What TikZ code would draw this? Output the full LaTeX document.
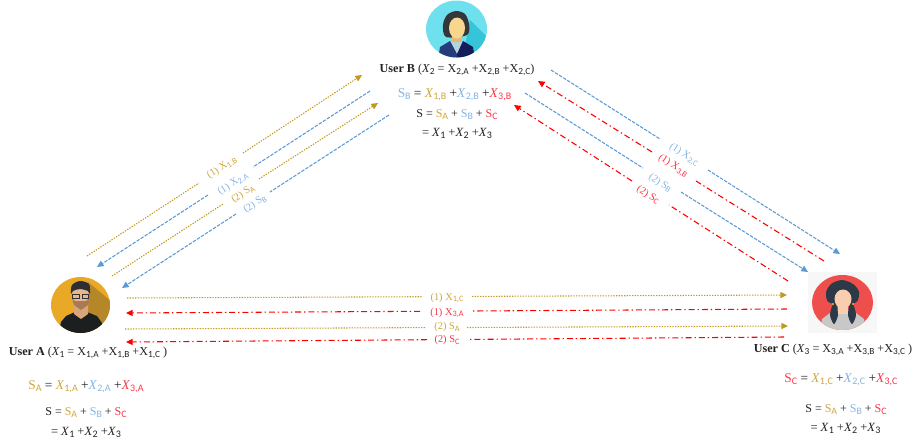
\documentclass[tikz,border=0pt]{standalone}
\usepackage{fontspec}
\setmainfont{Liberation Serif}
\newfontfamily\subfont{Carlito}
\usetikzlibrary{arrows.meta}
\definecolor{goldline}{HTML}{BF9A1E}
\definecolor{goldtext}{HTML}{CFA63C}
\definecolor{blueline}{HTML}{5B9BD5}
\definecolor{bluetext}{HTML}{84B4E4}
\definecolor{redline}{HTML}{FF0000}
\definecolor{redtext}{HTML}{FF3344}
\definecolor{inktext}{HTML}{222222}
\def\subsize{7.5}
\newcommand{\sbs}[2]{#1\lower.35ex\hbox{\subfont\fontsize{\subsize}{\subsize}\selectfont #2}}
\newcommand{\ix}[1]{\sbs{\textit{X}}{#1}}
\newcommand{\gold}[1]{{\color{goldtext}#1}}
\newcommand{\blue}[1]{{\color{bluetext}#1}}
\newcommand{\red}[1]{{\color{redtext}#1}}
\newcommand{\sumline}{S = \gold{\sbs{S}{A}} + \blue{\sbs{S}{B}} + \red{\sbs{S}{C}}}
\newcommand{\totline}{= \ix{1} +\ix{2} +\ix{3}}
\tikzset{
	goldarrow/.style={goldline,line width=.8pt,dash pattern=on 1pt off 1pt},
	bluearrow/.style={blueline,line width=.8pt,dash pattern=on 2.6pt off 1pt},
	redarrow/.style={redline,line width=.8pt,dash pattern=on 4.5pt off 2.2pt on 1pt off 2.2pt},
	tiphead/.style={-{Triangle[length=5pt,width=4.6pt]}},
	eqn/.style={inner sep=0pt,text=inktext,font=\fontsize{10}{12}\selectfont},
	sumeqn/.style={eqn,font=\fontsize{9}{11}\selectfont\def\subsize{7.4}},
	toteqn/.style={eqn,font=\fontsize{9.4}{11}\selectfont},
	head/.style={inner sep=0pt,text=inktext,font=\fontsize{9.1}{11}\selectfont\def\subsize{7}},
	msg/.style={inner sep=0pt,font=\fontsize{7.8}{10}\selectfont\def\subsize{6.2}}
}
\begin{document}
\begin{tikzpicture}[x=.75pt,y=-.75pt]
	\useasboundingbox (0,0) rectangle (913,443);

	\begin{scope}
		\clip (456.5,29) ellipse (30.5 and 28.5);
		\fill[fill={rgb,255:red,110;green,224;blue,238}] (420,-5) rectangle (495,62);
		\fill[fill={rgb,255:red,53;green,197;blue,216}] (470,20) -- (492,42) -- (492,62) -- (462,62) -- cycle;
		\fill[fill={rgb,255:red,51;green,54;blue,59}] plot[smooth cycle] coordinates {(456,11) (465,14) (469,24) (467,35) (446,37) (443,25) (447,15)};
		\fill[fill={rgb,255:red,232;green,184;blue,114}] (452,33) rectangle (462,45);
		\fill[fill={rgb,255:red,181;green,212;blue,220}] (449,42) -- (464,42) -- (457,54) -- cycle;
		\fill[fill={rgb,255:red,38;green,59;blue,124}] (438,60) -- (440,47) -- (450,41) -- (457,54) -- (457,60) -- cycle;
		\fill[fill={rgb,255:red,20;green,28;blue,92}] (475,60) -- (473,47) -- (463,41) -- (457,54) -- (457,60) -- cycle;
		\fill[fill={rgb,255:red,249;green,214;blue,142}] (457,28) ellipse (8 and 10.5);
	\end{scope}

	\begin{scope}
		\clip (80.5,305) ellipse (29.5 and 28);
		\fill[fill={rgb,255:red,233;green,168;blue,37}] (48,274) rectangle (113,336);
		\fill[fill={rgb,255:red,181;green,135;blue,40}] (88,282) -- (112,302) -- (112,336) -- (88,336) -- cycle;
		\fill[fill={rgb,255:red,28;green,31;blue,32}] (58,336) -- (61,322) -- (66,316) -- (75,312) -- (87,312) -- (97,316) -- (102,323) -- (104,336) -- cycle;
		\fill[fill={rgb,255:red,217;green,166;blue,121}] (74,304) -- (74,314) -- (81,319) -- (88,314) -- (88,304) -- cycle;
		\fill[fill={rgb,255:red,229;green,183;blue,143}] (80.5,296) ellipse (8.5 and 11);
		\fill[fill={rgb,255:red,168;green,122;blue,85}] (72,298) -- (75,301) -- (86,301) -- (89,298) -- (88,305) -- (81,310) -- (74,305) -- cycle;
		\fill[fill={rgb,255:red,44;green,47;blue,51}] plot[smooth cycle] coordinates {(71,294) (72,285) (80,281) (89,284) (90,294) (88,291) (80,289) (73,291)};
		\draw[draw={rgb,255:red,50;green,50;blue,50},line width=.5pt] (72.5,294) rectangle (79,298) (82,294) rectangle (88.5,298);
	\end{scope}

	\fill[fill={rgb,255:red,247;green,247;blue,247}] (808,272) rectangle (877,333);
	\begin{scope}
		\clip (842.5,302.5) ellipse (30.5 and 27.5);
		\fill[fill={rgb,255:red,239;green,79;blue,76}] (810,272) rectangle (875,332);
		\fill[fill={rgb,255:red,200;green,200;blue,200}] (820,332) -- (822,319) -- (834,310) -- (852,310) -- (864,319) -- (866,332) -- cycle;
		\fill[fill={rgb,255:red,249;green,205;blue,176}] (838,305) rectangle (848,314);
		\fill[fill={rgb,255:red,44;green,58;blue,71}] plot[smooth cycle] coordinates {(826,293) (831,284) (842,280) (853,284) (859,292) (855,303) (830,303)};
		\fill[fill={rgb,255:red,44;green,58;blue,71}] plot[smooth cycle] coordinates {(833,304) (830,315) (834,324) (838,315) (836,304)};
		\fill[fill={rgb,255:red,44;green,58;blue,71}] plot[smooth cycle] coordinates {(850,304) (848,315) (852,324) (856,315) (853,304)};
		\fill[fill={rgb,255:red,249;green,205;blue,176}] (843,299) ellipse (8.5 and 9.5);
		\fill[fill={rgb,255:red,240;green,176;blue,48}] (833,304) circle (1.2) (853,304) circle (1.2);
	\end{scope}

	\node[head] (nameB) at (457,70) {\textbf{User B} (\ix{2} = \sbs{X}{2,A} +\sbs{X}{2,B} +\sbs{X}{2,C})};
	\node[eqn] (shareB) at (454.5,95) {\blue{\sbs{S}{B}} = \gold{\ix{1,B}} +\blue{\ix{2,B}} +\red{\ix{3,B}}};
	\node[sumeqn] (sumB) at (457,115) {\sumline};
	\node[toteqn] (totB) at (457,133) {\totline};

	\node[head] (nameA) at (88,353) {\textbf{User A} (\ix{1} = \sbs{X}{1,A} +\sbs{X}{1,B} +\sbs{X}{1,C} )};
	\node[eqn] (shareA) at (86,387) {\gold{\sbs{S}{A}} = \gold{\ix{1,A}} +\blue{\ix{2,A}} +\red{\ix{3,A}}};
	\node[sumeqn] (sumA) at (86,413) {\sumline};
	\node[toteqn] (totA) at (86,432) {\totline};

	\node[head] (nameC) at (833,350) {\textbf{User C} (\ix{3} = \sbs{X}{3,A} +\sbs{X}{3,B} +\sbs{X}{3,C} )};
	\node[eqn] (shareC) at (841,380) {\red{\sbs{S}{C}} = \gold{\ix{1,C}} +\blue{\ix{2,C}} +\red{\ix{3,C}}};
	\node[sumeqn] (sumC) at (846,410) {\sumline};
	\node[toteqn] (totC) at (845.5,428) {\totline};

	\node[msg,rotate=33] (ab1l) at (222,168) {\gold{(1) \sbs{X}{1,B}}};
	\node[msg,rotate=33] (ab2l) at (233,184) {\blue{(1) \sbs{X}{2,A}}};
	\node[msg,rotate=33] (ab3l) at (243,194) {\gold{(2) \sbs{S}{A}}};
	\node[msg,rotate=33] (ab4l) at (255,204) {\blue{(2) \sbs{S}{B}}};
	\node[msg,rotate=-32.5] (bc1l) at (684,155) {\blue{(1) \sbs{X}{2,C}}};
	\node[msg,rotate=-32.5] (bc2l) at (673,166) {\red{(1) \sbs{X}{3,B}}};
	\node[msg,rotate=-32.5] (bc3l) at (660,183) {\blue{(2) \sbs{S}{B}}};
	\node[msg,rotate=-32.5] (bc4l) at (648,195) {\red{(2) \sbs{S}{C}}};
	\node[msg] (ac1l) at (447,298) {\gold{(1) \sbs{X}{1,C}}};
	\node[msg] (ac2l) at (447,313) {\red{(1) \sbs{X}{3,A}}};
	\node[msg] (ac3l) at (447,327) {\gold{(2) \sbs{S}{A}}};
	\node[msg] (ac4l) at (447,340) {\red{(2) \sbs{S}{C}}};

	\coordinate (ab1s) at (87,256);
	\coordinate (ab1m) at (199,183);
	\coordinate (ab1n) at (243,153);
	\coordinate (ab1e) at (362,75);
	\coordinate (ab2s) at (370,91);
	\coordinate (ab2m) at (253,167);
	\coordinate (ab2n) at (208,195);
	\coordinate (ab2e) at (97,267);
	\coordinate (ab3s) at (112,276);
	\coordinate (ab3m) at (223,204);
	\coordinate (ab3n) at (259,179);
	\coordinate (ab3e) at (378,103);
	\coordinate (ab4s) at (389,115);
	\coordinate (ab4m) at (270,192);
	\coordinate (ab4n) at (236,214);
	\coordinate (ab4e) at (122,288);

	\coordinate (bc1s) at (551,70);
	\coordinate (bc1m) at (660,139);
	\coordinate (bc1n) at (708,170);
	\coordinate (bc1e) at (840,254);
	\coordinate (bc2s) at (824,261);
	\coordinate (bc2m) at (696,181);
	\coordinate (bc2n) at (652,152);
	\coordinate (bc2e) at (538,81);
	\coordinate (bc3s) at (525,93);
	\coordinate (bc3m) at (643,168);
	\coordinate (bc3n) at (681,192);
	\coordinate (bc3e) at (808,272);
	\coordinate (bc4s) at (788,281);
	\coordinate (bc4m) at (669,205);
	\coordinate (bc4n) at (632,181);
	\coordinate (bc4e) at (514,105);

	\coordinate (ac1s) at (127,298);
	\coordinate (ac1m) at (423,296.7);
	\coordinate (ac1n) at (472,296.4);
	\coordinate (ac1e) at (787,295);
	\coordinate (ac2s) at (787,309);
	\coordinate (ac2m) at (473,311);
	\coordinate (ac2n) at (420,311.3);
	\coordinate (ac2e) at (126,313);
	\coordinate (ac3s) at (125,329);
	\coordinate (ac3m) at (425,327.6);
	\coordinate (ac3n) at (467,327.5);
	\coordinate (ac3e) at (788,326);
	\coordinate (ac4s) at (784,337);
	\coordinate (ac4m) at (470,339.4);
	\coordinate (ac4n) at (427,339.7);
	\coordinate (ac4e) at (126,342);

	\draw[goldarrow] (ab1s)--(ab1m);
	\draw[goldarrow,tiphead] (ab1n)--(ab1e);
	\draw[bluearrow] (ab2s)--(ab2m);
	\draw[bluearrow,tiphead] (ab2n)--(ab2e);
	\draw[goldarrow] (ab3s)--(ab3m);
	\draw[goldarrow,tiphead] (ab3n)--(ab3e);
	\draw[bluearrow] (ab4s)--(ab4m);
	\draw[bluearrow,tiphead] (ab4n)--(ab4e);
	\draw[bluearrow] (bc1s)--(bc1m);
	\draw[bluearrow,tiphead] (bc1n)--(bc1e);
	\draw[redarrow] (bc2s)--(bc2m);
	\draw[redarrow,tiphead] (bc2n)--(bc2e);
	\draw[bluearrow] (bc3s)--(bc3m);
	\draw[bluearrow,tiphead] (bc3n)--(bc3e);
	\draw[redarrow] (bc4s)--(bc4m);
	\draw[redarrow,tiphead] (bc4n)--(bc4e);
	\draw[goldarrow] (ac1s)--(ac1m);
	\draw[goldarrow,tiphead] (ac1n)--(ac1e);
	\draw[redarrow] (ac2s)--(ac2m);
	\draw[redarrow,tiphead] (ac2n)--(ac2e);
	\draw[goldarrow] (ac3s)--(ac3m);
	\draw[goldarrow,tiphead] (ac3n)--(ac3e);
	\draw[redarrow] (ac4s)--(ac4m);
	\draw[redarrow,tiphead] (ac4n)--(ac4e);
\end{tikzpicture}
\end{document}
